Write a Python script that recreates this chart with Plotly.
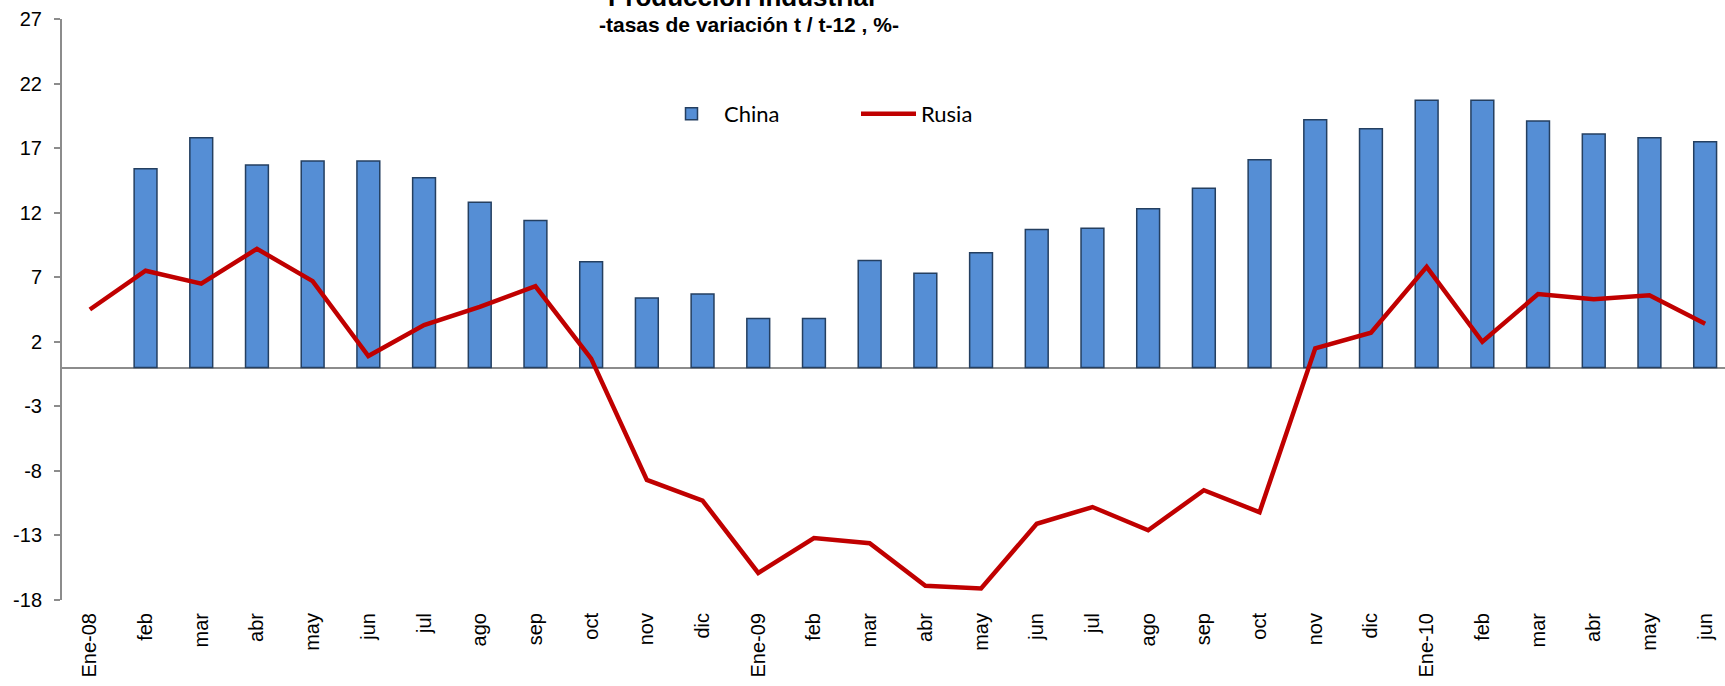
import plotly.graph_objects as go

categories = ["Ene-08", "feb", "mar", "abr", "may", "jun", "jul", "ago", "sep", "oct", "nov", "dic",
              "Ene-09", "feb ", "mar ", "abr ", "may ", "jun ", "jul ", "ago ", "sep ", "oct ", "nov ", "dic ",
              "Ene-10", "feb  ", "mar  ", "abr  ", "may  ", "jun  "]
tick_labels = ["Ene-08", "feb", "mar", "abr", "may", "jun", "jul", "ago", "sep", "oct", "nov", "dic",
               "Ene-09", "feb", "mar", "abr", "may", "jun", "jul", "ago", "sep", "oct", "nov", "dic",
               "Ene-10", "feb", "mar", "abr", "may", "jun"]
china = [None, 15.4, 17.8, 15.7, 16.0, 16.0, 14.7, 12.8, 11.4, 8.2, 5.4, 5.7,
         3.8, 3.8, 8.3, 7.3, 8.9, 10.7, 10.8, 12.3, 13.9, 16.1, 19.2, 18.5,
         20.7, 20.7, 19.1, 18.1, 17.8, 17.5]
rusia = [4.5, 7.5, 6.5, 9.2, 6.7, 0.9, 3.3, 4.7, 6.3, 0.7, -8.7, -10.3,
         -15.9, -13.2, -13.6, -16.9, -17.1, -12.1, -10.8, -12.6, -9.5, -11.2, 1.5, 2.7,
         7.8, 2.0, 5.7, 5.3, 5.6, 3.4]
y_ticks = [27, 22, 17, 12, 7, 2, -3, -8, -13, -18]
y_tick_text = [str(v) for v in y_ticks]

W, H = 1725, 686
L, R, T, B = 62, 0, 19, 86
plot_w = W - L - R
plot_h = H - T - B
cat_px = 55.7

def px_x(p):
    return (p - L) / plot_w

def px_y(p):
    return 1 - (p - T) / plot_h

fig = go.Figure()
fig.add_trace(go.Bar(
    x=list(range(len(categories))), y=china, name="China",
    marker=dict(color="#558ED5", line=dict(color="#243F60", width=1.5)),
))
fig.add_trace(go.Scatter(
    x=list(range(len(categories))), y=rusia, name="Rusia", mode="lines",
    line=dict(color="#C00000", width=4.5),
))

fig.update_layout(
    width=W, height=H,
    margin=dict(l=L, r=R, t=T, b=B, autoexpand=False),
    paper_bgcolor="white", plot_bgcolor="white",
    bargap=0.59,
    showlegend=True,
    legend=dict(
        orientation="h", x=px_x(659), y=px_y(114), xanchor="left", yanchor="middle",
        font=dict(family="Lato", size=22, color="#000000"),
        itemwidth=55, entrywidth=127, bgcolor="rgba(0,0,0,0)",
    ),
    xaxis=dict(
        range=[-0.5, -0.5 + plot_w / cat_px],
        tickmode="array", tickvals=list(range(len(categories))), ticktext=tick_labels,
        tickangle=-90, showline=False, showgrid=False, zeroline=False, ticks="",
        tickfont=dict(family="Liberation Sans", size=20, color="#000000"),
        ticklabelstandoff=8, automargin=False, ticklabeloverflow="allow",
    ),
    yaxis=dict(
        range=[-18, 27], tickmode="array", tickvals=y_ticks, ticktext=y_tick_text,
        showline=True, linecolor="#8C8C8C", linewidth=2,
        ticks="outside", ticklen=6, tickcolor="#8C8C8C", tickwidth=2,
        showgrid=False, zeroline=True, zerolinecolor="#8C8C8C", zerolinewidth=2,
        tickfont=dict(family="Liberation Sans", size=20, color="#000000"),
        ticklabelstandoff=8, automargin=False, ticklabeloverflow="allow",
    ),
    annotations=[
        dict(text="<b>Producción Industrial</b>", xref="paper", yref="paper",
             x=px_x(741), y=px_y(-3.5), xanchor="center", yanchor="middle", showarrow=False,
             font=dict(family="Liberation Sans", size=26, color="#000000")),
        dict(text="<b>-tasas de variación t / t-12 , %-</b>", xref="paper", yref="paper",
             x=px_x(749), y=px_y(25), xanchor="center", yanchor="middle", showarrow=False,
             font=dict(family="Liberation Sans", size=21, color="#000000")),
    ],
)

fig.write_html(
    "out.html",
    config={"displayModeBar": False},
    post_script="document.body.style.margin='0';document.body.style.padding='0';document.body.style.overflow='hidden';",
)
